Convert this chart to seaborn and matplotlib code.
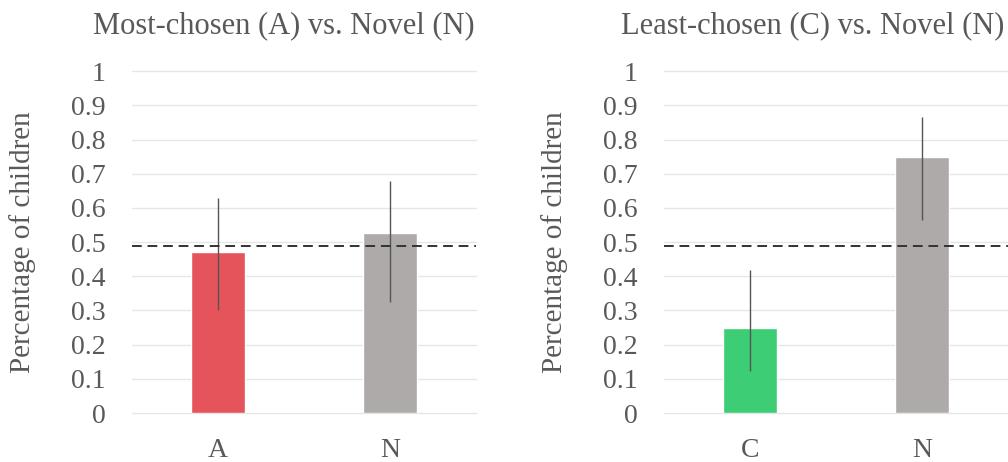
import matplotlib
matplotlib.use("Agg")
import matplotlib.pyplot as plt
import seaborn as sns
import pandas as pd
import numpy as np

# Data
left_title = "Most-chosen (A) vs. Novel (N)"
right_title = "Least-chosen (C) vs. Novel (N)"
left_cats = ["A", "N"]
left_vals = [0.47, 0.527]
left_err_low = [0.30, 0.325]
left_err_high = [0.63, 0.68]
right_cats = ["C", "N"]
right_vals = [0.25, 0.75]
right_err_low = [0.124, 0.564]
right_err_high = [0.418, 0.866]
chance_level = 0.49
y_ticks = [0, 0.1, 0.2, 0.3, 0.4, 0.5, 0.6, 0.7, 0.8, 0.9, 1]
y_tick_labels = ["0", "0.1", "0.2", "0.3", "0.4", "0.5", "0.6", "0.7", "0.8", "0.9", "1"]
ylabel = "Percentage of children"

left_colors = ["#E5545A", "#ADAAA9"]
right_colors = ["#3CCD75", "#ADAAA9"]

sns.set_theme(style="white")
plt.rcParams['font.family'] = ['Liberation Serif', 'DejaVu Serif']
text_color = "#595959"

fig = plt.figure(figsize=(10.08, 4.62), dpi=100)
ax1 = fig.add_axes([0.131, 0.106, 0.341, 0.740])
ax2 = fig.add_axes([0.659, 0.106, 0.341, 0.740])

def draw(ax, cats, vals, lo, hi, colors, title, title_x):
    df = pd.DataFrame({"cat": cats, "val": vals})
    sns.barplot(data=df, x="cat", y="val", hue="cat", palette=colors,
                width=0.314, errorbar=None, legend=False, ax=ax, zorder=3,
                saturation=1)
    v = np.array(vals)
    yerr = np.vstack([v - np.array(lo), np.array(hi) - v])
    ax.errorbar(x=np.arange(len(cats)), y=v, yerr=yerr, fmt="none",
                ecolor="#555555", elinewidth=1.0, capsize=0, zorder=4)
    ax.axhline(chance_level, color="#333333", lw=1.4, ls=(0, (5, 3)), zorder=5)
    ax.set_ylim(0, 1.0)
    ax.set_xlim(-0.5, 1.5)
    ax.set_yticks(y_ticks)
    ax.set_yticklabels(y_tick_labels)
    for y in y_ticks:
        ax.axhline(y, color="#E6E6E6", lw=1.0, zorder=1, clip_on=False)
    for s in ax.spines.values():
        s.set_visible(False)
    ax.tick_params(axis="both", length=0, labelsize=20, colors=text_color)
    ax.tick_params(axis="y", pad=19)
    ax.tick_params(axis="x", pad=18)
    ax.set_xlabel("")
    ax.set_ylabel(ylabel, fontsize=21, color=text_color)
    ax.yaxis.set_label_coords(-0.28, 0.5)
    fig.text(title_x, 0.945, title, ha="center", va="center",
             fontsize=22, color=text_color)

draw(ax1, left_cats, left_vals, left_err_low, left_err_high, left_colors,
     left_title, 284 / 1008)
draw(ax2, right_cats, right_vals, right_err_low, right_err_high, right_colors,
     right_title, 813 / 1008)

fig.savefig("out.png", dpi=100)
